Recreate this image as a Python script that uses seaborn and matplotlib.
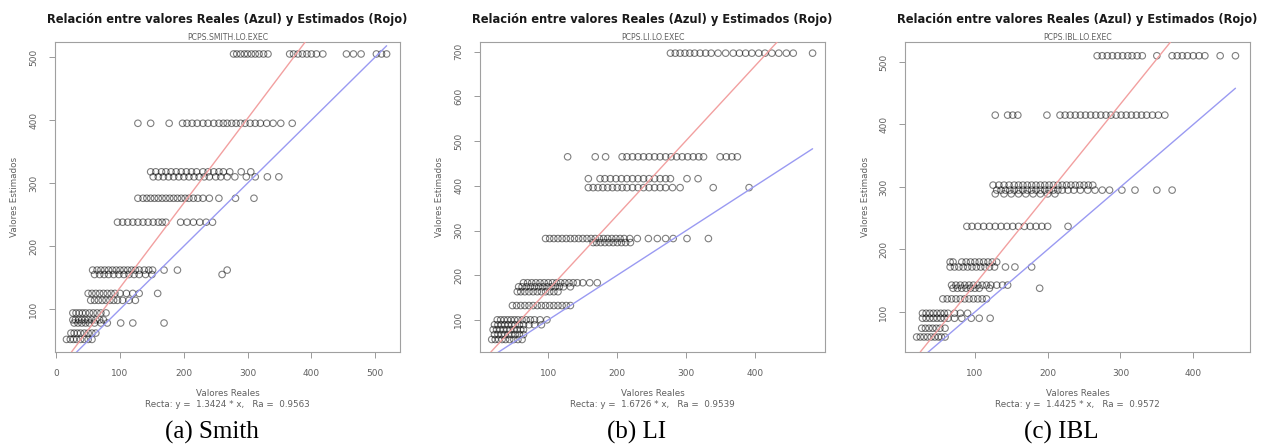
import numpy as np
import pandas as pd
import matplotlib
matplotlib.use("Agg")
import matplotlib.pyplot as plt
import seaborn as sns

# ---- Smith ----
SMITH_EST = [505, 395, 318, 310, 276, 238, 162, 155, 125, 114, 94, 83, 78, 62, 52]
SMITH_REAL = [
    [278, 283, 289, 295, 300, 306, 312, 318, 325, 332, 366, 372, 379, 386, 393, 400, 408, 418, 455, 466, 478, 502, 510, 518],
    [128, 148, 177, 198, 205, 213, 221, 230, 238, 247, 255, 262, 268, 275, 282, 289, 296, 304, 312, 320, 330, 340, 352, 370],
    [148, 156, 165, 172, 180, 188, 196, 204, 212, 220, 230, 238, 247, 255, 262, 272, 290, 305],
    [152, 160, 168, 176, 184, 192, 200, 208, 216, 224, 232, 240, 250, 258, 268, 280, 298, 312, 331, 349],
    [128, 136, 142, 148, 154, 160, 166, 172, 178, 184, 190, 196, 202, 208, 215, 222, 230, 240, 255, 281, 310],
    [96, 104, 112, 120, 128, 136, 144, 152, 160, 166, 172, 195, 205, 215, 225, 235, 245],
    [57, 64, 70, 76, 82, 88, 94, 100, 106, 112, 118, 124, 130, 138, 145, 151, 169, 190, 268],
    [60, 68, 75, 82, 90, 98, 106, 114, 122, 130, 140, 150, 260],
    [50, 56, 62, 68, 74, 80, 86, 92, 100, 110, 120, 130, 159],
    [54, 60, 66, 72, 78, 84, 90, 96, 104, 114, 124],
    [26, 31, 36, 41, 46, 52, 58, 64, 70, 78],
    [26, 30, 35, 40, 45, 50, 56, 62, 68, 74],
    [28, 34, 40, 46, 52, 60, 70, 80, 101, 120, 169],
    [23, 28, 33, 38, 44, 50, 56, 62],
    [16, 22, 27, 32, 38, 44, 50, 56],
]

# ---- LI ----
LI_EST = [697, 465, 416, 396, 282, 273, 183, 174, 163, 132, 100, 89, 78, 67, 56]
LI_REAL = [
    [277, 284, 291, 298, 305, 312, 320, 328, 336, 346, 357, 368, 377, 386, 395, 405, 414, 424, 434, 445, 455, 483],
    [128, 168, 183, 207, 214, 222, 230, 238, 246, 254, 262, 270, 278, 286, 294, 302, 310, 318, 325, 349, 358, 366, 374],
    [158, 175, 182, 190, 198, 206, 214, 222, 230, 238, 246, 254, 262, 270, 277, 301, 317],
    [158, 165, 172, 179, 186, 193, 200, 207, 214, 222, 230, 238, 246, 254, 262, 270, 280, 291, 339, 391],
    [96, 102, 108, 114, 120, 126, 132, 138, 144, 150, 156, 162, 168, 174, 180, 186, 192, 198, 204, 210, 218, 229, 245, 258, 270, 281, 301, 332],
    [165, 170, 176, 182, 188, 194, 200, 206, 212, 219],
    [64, 70, 76, 82, 88, 94, 100, 106, 112, 118, 124, 130, 136, 142, 150, 160, 171],
    [57, 62, 68, 74, 80, 86, 92, 98, 104, 110, 116, 122, 132],
    [55, 60, 66, 72, 78, 84, 90, 96, 102, 108, 114],
    [48, 54, 60, 66, 72, 78, 84, 90, 96, 102, 108, 114, 120, 126, 132],
    [26, 31, 36, 41, 46, 51, 56, 62, 68, 74, 80, 88, 98],
    [22, 27, 32, 37, 42, 47, 52, 58, 64, 72, 80, 90],
    [20, 25, 30, 35, 40, 45, 50, 55, 60, 64],
    [22, 27, 32, 37, 42, 47, 52, 58, 64],
    [18, 23, 28, 33, 38, 44, 50, 56, 62],
]

# ---- IBL ----
IBL_EST = [510, 415, 303, 295, 289, 237, 180, 172, 143, 138, 121, 98, 90, 74, 60]
IBL_REAL = [
    [268, 275, 282, 289, 296, 303, 310, 316, 323, 330, 350, 371, 378, 385, 392, 400, 408, 416, 437, 458],
    [128, 145, 152, 159, 199, 217, 224, 231, 238, 245, 252, 259, 266, 273, 280, 287, 294, 301, 308, 315, 322, 329, 336, 344, 352, 361],
    [125, 133, 140, 147, 154, 160, 166, 172, 178, 184, 190, 196, 202, 208, 214, 220, 226, 232, 238, 244, 250, 256, 262],
    [130, 136, 142, 148, 154, 160, 166, 172, 178, 184, 190, 196, 202, 208, 214, 220, 228, 236, 245, 255, 265, 275, 285, 302, 320, 350, 371],
    [128, 140, 150, 160, 170, 180, 190, 200, 210],
    [89, 96, 104, 112, 120, 128, 136, 144, 152, 160, 168, 176, 184, 192, 200, 228],
    [66, 70, 82, 88, 94, 100, 106, 112, 118, 124, 130],
    [66, 72, 78, 84, 90, 96, 102, 108, 114, 120, 127, 142, 155, 178],
    [68, 74, 80, 86, 92, 98, 104, 110, 116, 122, 130, 138, 145],
    [70, 76, 82, 88, 94, 100, 106, 120, 189],
    [56, 62, 68, 74, 80, 86, 92, 98, 104, 110, 116],
    [28, 33, 38, 43, 48, 53, 58, 63, 72, 80, 90],
    [28, 33, 38, 43, 48, 53, 58, 63, 72, 82, 95, 106, 121],
    [27, 32, 37, 42, 47, 52, 59],
    [20, 25, 30, 35, 40, 45, 50, 54, 59],
]

PANELS = [
    dict(est=SMITH_EST, real=SMITH_REAL, subtitle="PCPS.SMITH.LO.EXEC", slope=1.3424, ra="0.9563",
         caption="(a) Smith", xlim=(-2, 539), ylim=(32, 524),
         xticks=[0, 100, 200, 300, 400, 500], yticks=[100, 200, 300, 400, 500]),
    dict(est=LI_EST, real=LI_REAL, subtitle="PCPS.LI.LO.EXEC", slope=1.6726, ra="0.9539",
         caption="(b) LI", xlim=(1, 501), ylim=(28, 722),
         xticks=[100, 200, 300, 400], yticks=[100, 200, 300, 400, 500, 600, 700]),
    dict(est=IBL_EST, real=IBL_REAL, subtitle="PCPS.IBL.LO.EXEC", slope=1.4425, ra="0.9572",
         caption="(c) IBL", xlim=(4, 478), ylim=(36, 532),
         xticks=[100, 200, 300, 400], yticks=[100, 200, 300, 400, 500]),
]

W, H = 1275, 448
sns.set_style("white")
plt.rcParams["font.family"] = ["DejaVu Sans"]

fig = plt.figure(figsize=(W / 100, H / 100), dpi=100)

AX_LEFT = [55, 480, 905]
AX_W, AX_TOP, AX_BOT = 345, 42, 352
CAPTION_X = [212, 637, 1061]
TXT = "#606060"


def fx(px):
    return px / W


def fy(py):
    return 1 - py / H


for i, p in enumerate(PANELS):
    left = AX_LEFT[i]
    ax = fig.add_axes([fx(left), fy(AX_BOT), AX_W / W, (AX_BOT - AX_TOP) / H])

    df = pd.DataFrame({
        "real": [x for row in p["real"] for x in row],
        "est": [lvl for lvl, row in zip(p["est"], p["real"]) for _ in row],
    })

    sns.scatterplot(data=df, x="real", y="est", ax=ax, marker="o", s=22,
                    facecolor="none", edgecolor=(0, 0, 0, 0.5), linewidth=0.8,
                    legend=False, zorder=2)

    # identity line over the range of the real values
    lo, hi = df["real"].min(), df["real"].max()
    sns.lineplot(x=[lo, hi], y=[lo, hi], ax=ax, color="#9a9af2", linewidth=1.0,
                 zorder=3)
    # fitted line through the origin
    ax.axline((0, 0), slope=p["slope"], color="#f2a0a0", linewidth=1.0, zorder=3)

    ax.set_xlim(*p["xlim"])
    ax.set_ylim(*p["ylim"])
    ax.set_xticks(p["xticks"])
    ax.set_yticks(p["yticks"])
    ax.set_xlabel("")
    ax.set_ylabel("")
    ax.tick_params(axis="both", direction="out", length=4, width=0.7,
                   colors="#999999", labelcolor=TXT, labelsize=6.5, pad=8,
                   bottom=True, left=True)
    for lab in ax.get_yticklabels():
        lab.set_rotation(90)
        lab.set_va("center")
    for sp in ax.spines.values():
        sp.set_color("#a0a0a0")
        sp.set_linewidth(0.8)

    cx = left + AX_W / 2
    fig.text(fx(cx), fy(19), "Relación entre valores Reales (Azul) y Estimados (Rojo)",
             ha="center", va="center", fontsize=8.3, fontweight="bold", color="#1a1a1a")
    fig.text(fx(cx), fy(37), p["subtitle"], ha="center", va="center",
             fontsize=5.6, color=TXT)
    fig.text(fx(cx), fy(393), "Valores Reales", ha="center", va="center",
             fontsize=6.3, color=TXT)
    fig.text(fx(cx), fy(404), f"Recta: y =  {p['slope']:.4f} * x,   Ra =  {p['ra']}",
             ha="center", va="center", fontsize=6.3, color=TXT)
    fig.text(fx(left - 40), fy((AX_TOP + AX_BOT) / 2), "Valores Estimados",
             ha="center", va="center", rotation=90, fontsize=6.3, color=TXT)
    fig.text(fx(CAPTION_X[i]), fy(432), p["caption"], ha="center", va="center",
             fontsize=18, family="Liberation Serif", color="#000000")

fig.savefig("out.png", dpi=100)
